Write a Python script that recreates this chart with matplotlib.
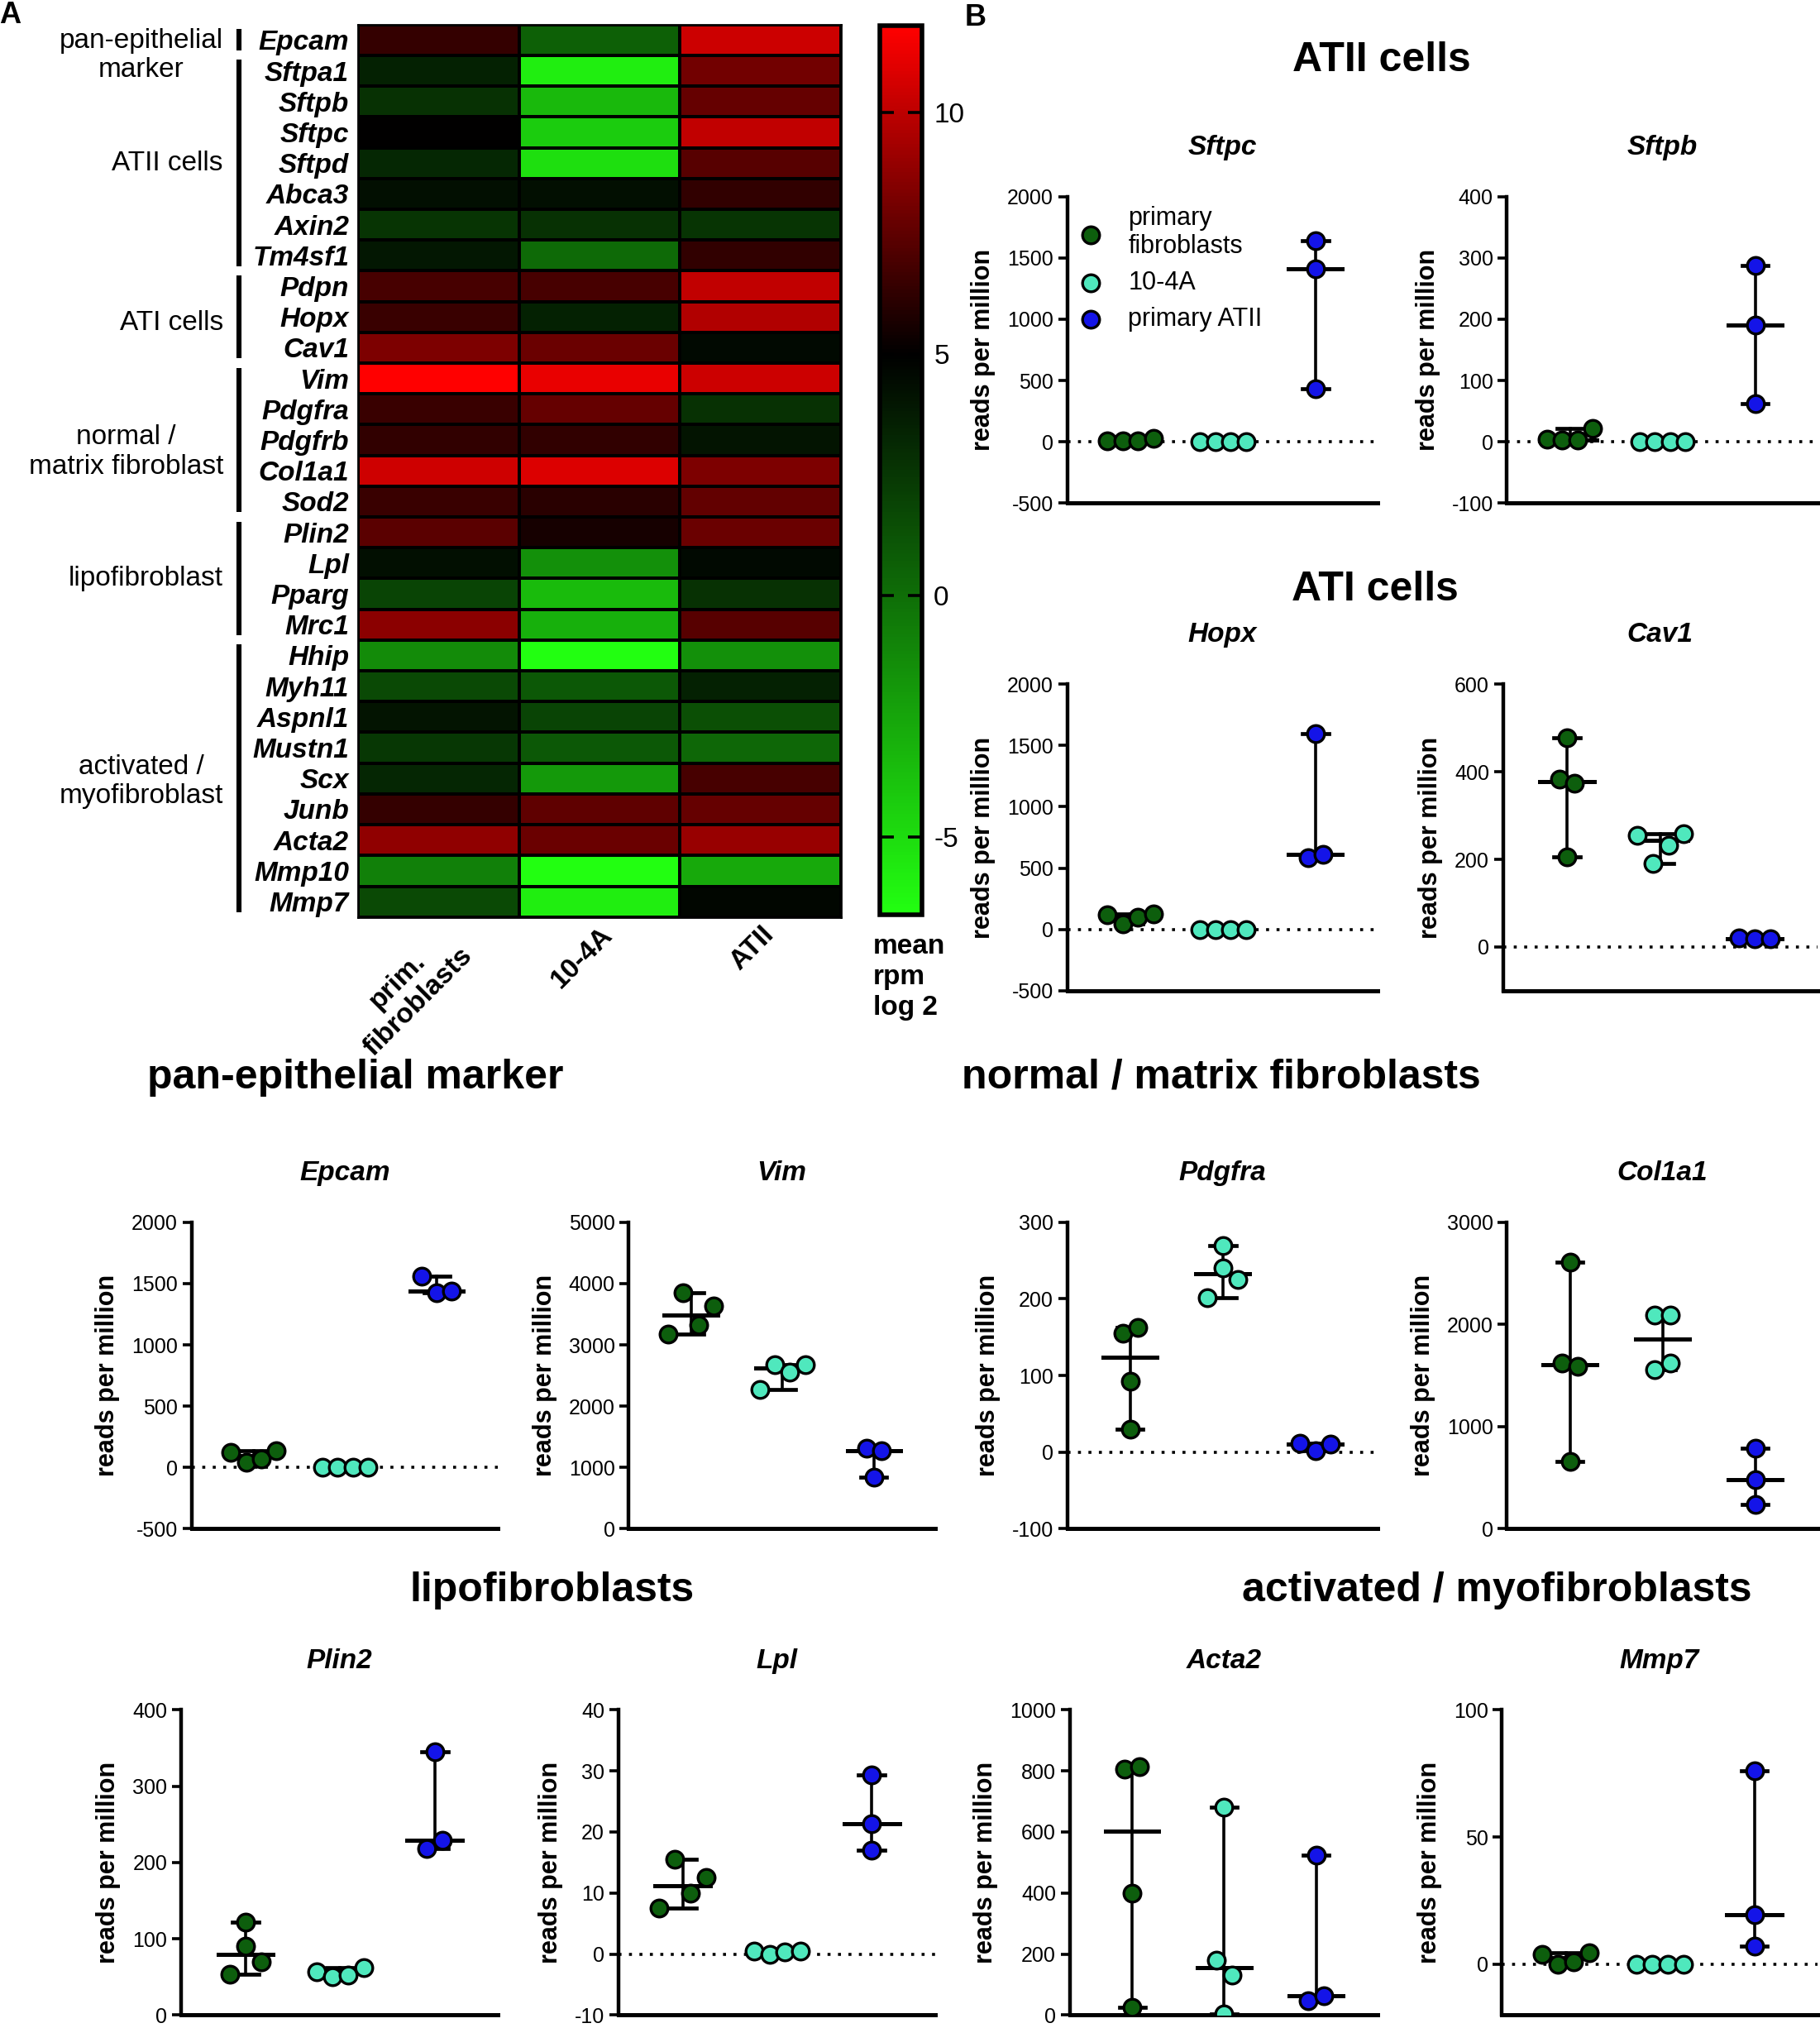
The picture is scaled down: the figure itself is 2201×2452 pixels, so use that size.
import numpy as np
import matplotlib
matplotlib.use("Agg")
import matplotlib.pyplot as plt
import matplotlib.transforms as mtransforms
from matplotlib.colors import LinearSegmentedColormap, Normalize

plt.rcParams['font.family'] = ['Liberation Sans', 'DejaVu Sans']
plt.rcParams['axes.unicode_minus'] = False

# layout grid = reference picture scaled to 1407 x 1568
W, H = 1407, 1568

# ---------------- heatmap data (mean rpm, log2) ----------------
genes = ['Epcam', 'Sftpa1', 'Sftpb', 'Sftpc', 'Sftpd', 'Abca3', 'Axin2', 'Tm4sf1',
         'Pdpn', 'Hopx', 'Cav1', 'Vim', 'Pdgfra', 'Pdgfrb', 'Col1a1', 'Sod2',
         'Plin2', 'Lpl', 'Pparg', 'Mrc1', 'Hhip', 'Myh11', 'Aspnl1', 'Mustn1',
         'Scx', 'Junb', 'Acta2', 'Mmp10', 'Mmp7']
hm_columns = ['prim.\nfibroblasts', '10-4A', 'ATII']
hm_prim_fib = [6.4, 3.5, 2.8, 5.0, 3.2, 4.3, 2.6, 3.9, 6.9, 6.5, 8.3, 11.8, 6.5, 6.3, 10.5,
               6.5, 7.4, 4.3, 1.9, 8.7, -1.3, 1.7, 4.1, 2.5, 3.3, 6.4, 8.8, -0.8, 1.7]
hm_104a = [0.6, -5.8, -3.4, -4.3, -5.1, 4.3, 2.8, 0.2, 6.9, 3.5, 7.8, 11.2, 7.7, 6.3, 10.8,
           6.1, 5.6, -1.5, -3.5, -3.0, -6.6, 1.0, 1.9, 1.0, -2.0, 7.5, 7.8, -6.6, -5.8]
hm_atii = [10.4, 8.0, 7.7, 10.1, 7.3, 6.3, 2.6, 6.3, 10.1, 9.7, 4.6, 10.4, 2.8, 4.1, 8.3,
           7.6, 7.8, 4.6, 2.8, 7.3, -1.5, 3.5, 1.4, 0.3, 6.9, 7.7, 9.0, -2.7, 4.7]

# marker groups: label, first row, last row, label centre (row units)
gene_groups = [('pan-epithelial\nmarker', 0, 0, 1.0),
               ('ATII cells', 1, 7, 4.5),
               ('ATI cells', 8, 10, 9.7),
               ('normal /\nmatrix fibroblast', 11, 15, 13.9),
               ('lipofibroblast', 16, 19, 18.0),
               ('activated /\nmyofibroblast', 20, 28, 24.6)]

# ---------------- reads per million (fibroblasts, 10-4A, ATII) ----------------
sftpc = ([10, 10, 10, 25], [0, 0, 0, 0], [1640, 1410, 430])
sftpb = ([4, 3, 3, 22], [0, 0, 0, 0], [288, 190, 62])
hopx = ([120, 45, 100, 125], [0, 0, 0, 0], [1600, 585, 615])
cav1 = ([478, 383, 373, 205], [255, 190, 232, 258], [20, 18, 18])
epcam = ([120, 40, 70, 135], [0, 0, 0, 0], [1560, 1425, 1440])
vim = ([3170, 3850, 3330, 3640], [2270, 2680, 2560, 2680], [1320, 840, 1280])
pdgfra = ([155, 163, 93, 30], [270, 202, 240, 225], [12, 2, 10])
col1a1 = ([2610, 1620, 1590, 660], [2090, 2090, 1560, 1620], [790, 480, 240])
plin2 = ([122, 53, 90, 70], [57, 50, 52, 62], [345, 218, 229])
lpl = ([7.5, 15.5, 10, 12.5], [0.5, 0, 0.3, 0.5], [29.3, 21.3, 17])
acta2 = ([805, 815, 400, 25], [5, 180, 130, 680], [48, 62, 525])
mmp7 = ([4, 0, 1, 4.5], [0, 0, 0, 0], [76, 19.5, 7])

cell_labels = ['primary\nfibroblasts', '10-4A', 'primary ATII']
cell_colors = ['#0d5e0d', '#4fe8bd', '#1414e8']


def rect(x0, x1, ytop, ybot):
    return [x0 / W, 1 - ybot / H, (x1 - x0) / W, (ybot - ytop) / H]


def swarm(vals, thr, step=0.165):
    # spread points that would overlap, GraphPad-like
    vals = np.asarray(vals, float)
    order = np.argsort(vals, kind='stable')
    clusters, cur = [], [order[0]]
    for a, b in zip(order[:-1], order[1:]):
        if vals[b] - vals[a] <= thr:
            cur.append(b)
        else:
            clusters.append(cur)
            cur = [b]
    clusters.append(cur)
    off = np.zeros(len(vals))
    for c in clusters:
        c = sorted(c)
        for k, idx in enumerate(c):
            off[idx] = (k - (len(c) - 1) / 2) * step
    return off


fig = plt.figure(figsize=(2201 / 200, 2452 / 200), dpi=200)

# ---------------- A: heatmap ----------------
ax = fig.add_axes(rect(277, 650, 19, 709))
mat = np.column_stack([hm_prim_fib, hm_104a, hm_atii])
vmin, vmax = -6.6, 11.8
cmap = LinearSegmentedColormap.from_list(
    'gbr', [(0, '#22ff11'), ((5 - vmin) / (vmax - vmin), '#000000'), (1, '#ff0000')])
norm = Normalize(vmin, vmax)
mesh = ax.pcolormesh(mat, cmap=cmap, norm=norm, edgecolors='black', linewidth=0.8)
ax.set_ylim(len(genes), 0)
ax.set_xlim(0, 3)
ax.set_yticks(np.arange(len(genes)) + 0.5)
ax.set_yticklabels(genes, fontsize=12, fontweight='bold', fontstyle='italic')
ax.set_xticks([0.5, 1.5, 2.5])
ax.set_xticklabels(hm_columns, fontsize=12, fontweight='bold', rotation=45,
                   ha='right', va='top', rotation_mode='anchor', multialignment='center')
ax.tick_params(length=0)
ax.tick_params(axis='y', pad=4)
ax.tick_params(axis='x', pad=2)
for s in ax.spines.values():
    s.set_linewidth(1)

trans = mtransforms.blended_transform_factory(ax.transAxes, ax.transData)
for label, r0, r1, yc in gene_groups:
    ax.plot([-0.247, -0.247], [r0 + 0.15, r1 + 1 - 0.15], color='black', lw=2.2,
            transform=trans, clip_on=False, solid_capstyle='butt')
    ax.text(-0.28, yc, label, transform=trans, ha='right', va='center',
            multialignment='center', fontsize=12)

cax = fig.add_axes(rect(680, 713, 20, 707))
cb = fig.colorbar(mesh, cax=cax, ticks=[-5, 0, 5, 10])
cb.outline.set_linewidth(2)
cb.ax.tick_params(direction='in', length=6, width=1.3, left=True, right=True,
                  labelsize=12, pad=5)
fig.text(675 / W, 1 - 722 / H, 'mean\nrpm\nlog 2', ha='left', va='top',
         fontsize=12, fontweight='bold', linespacing=1.25)

fig.text(8 / W, 1 - 12 / H, 'A', fontsize=13, fontweight='bold', ha='center', va='center')
fig.text(754 / W, 1 - 14 / H, 'B', fontsize=13, fontweight='bold', ha='center', va='center')

# ---------------- B: dot plots ----------------
panels = [
    ('Sftpc', sftpc, (-500, 2000), np.arange(-500, 2001, 500), rect(825, 1065, 152, 389)),
    ('Sftpb', sftpb, (-100, 400), np.arange(-100, 401, 100), rect(1165, 1405, 152, 389)),
    ('Hopx', hopx, (-500, 2000), np.arange(-500, 2001, 500), rect(825, 1065, 529, 766)),
    ('Cav1', cav1, (-100, 600), np.arange(0, 601, 200), rect(1162, 1405, 529, 766)),
    ('Epcam', epcam, (-500, 2000), np.arange(-500, 2001, 500), rect(148, 385, 945, 1182)),
    ('Vim', vim, (0, 5000), np.arange(0, 5001, 1000), rect(486, 723, 945, 1182)),
    ('Pdgfra', pdgfra, (-100, 300), np.arange(-100, 301, 100), rect(825, 1065, 945, 1182)),
    ('Col1a1', col1a1, (0, 3000), np.arange(0, 3001, 1000), rect(1165, 1405, 945, 1182)),
    ('Plin2', plin2, (0, 400), np.arange(0, 401, 100), rect(140, 385, 1322, 1558)),
    ('Lpl', lpl, (-10, 40), np.arange(-10, 41, 10), rect(478, 723, 1322, 1558)),
    ('Acta2', acta2, (0, 1000), np.arange(0, 1001, 200), rect(827, 1065, 1322, 1558)),
    ('Mmp7', mmp7, (-20, 100), np.arange(0, 101, 50), rect(1161, 1405, 1322, 1558)),
]

for name, data, ylim, yticks, r in panels:
    pax = fig.add_axes(r)
    thr = 0.062 * (ylim[1] - ylim[0])
    if ylim[0] < 0:
        pax.axhline(0, color='black', lw=1.3, ls=(0, (1, 2.5)), zorder=1)
    for gi, (vals, col, lab) in enumerate(zip(data, cell_colors, cell_labels)):
        x = gi + 1
        v = np.asarray(vals, float)
        lo, hi, med = v.min(), v.max(), np.median(v)
        pax.plot([x, x], [lo, hi], color='black', lw=1.3, zorder=2)
        pax.plot([x - 0.14, x + 0.14], [lo, lo], color='black', lw=1.7, zorder=2)
        pax.plot([x - 0.14, x + 0.14], [hi, hi], color='black', lw=1.7, zorder=2)
        pax.plot([x - 0.29, x + 0.29], [med, med], color='black', lw=1.8, zorder=2)
        pax.scatter(x + swarm(v, thr), v, s=55, color=col, edgecolors='black',
                    linewidths=1.2, zorder=3, label=lab)
    pax.set_xlim(0.32, 3.67)
    pax.set_ylim(*ylim)
    pax.set_yticks(yticks)
    pax.set_xticks([])
    for side in ['top', 'right']:
        pax.spines[side].set_visible(False)
    pax.spines['left'].set_linewidth(1.6)
    pax.spines['bottom'].set_linewidth(1.8)
    pax.tick_params(axis='y', direction='out', length=4, width=1.3, labelsize=9, pad=2)
    pax.set_ylabel('reads per million', fontsize=11, fontweight='bold', labelpad=5)
    pax.text(0.5, 1.16, name, transform=pax.transAxes, ha='center', va='center',
             fontsize=12, fontweight='bold', fontstyle='italic')
    if name == 'Sftpc':
        pax.legend(loc='upper left', bbox_to_anchor=(-0.015, 1.02), frameon=False,
                   fontsize=11, handletextpad=1.0, labelspacing=0.45,
                   handlelength=1.0, borderaxespad=0.2)

section_titles = [('ATII cells', 1068, 47), ('ATI cells', 1063, 456),
                  ('pan-epithelial marker', 275, 833),
                  ('normal / matrix fibroblasts', 944, 833),
                  ('lipofibroblasts', 427, 1230),
                  ('activated / myofibroblasts', 1157, 1230)]
for txt, x, y in section_titles:
    fig.text(x / W, 1 - y / H, txt, ha='center', va='center', fontsize=18,
             fontweight='bold')

fig.savefig('out.png', dpi=200)
